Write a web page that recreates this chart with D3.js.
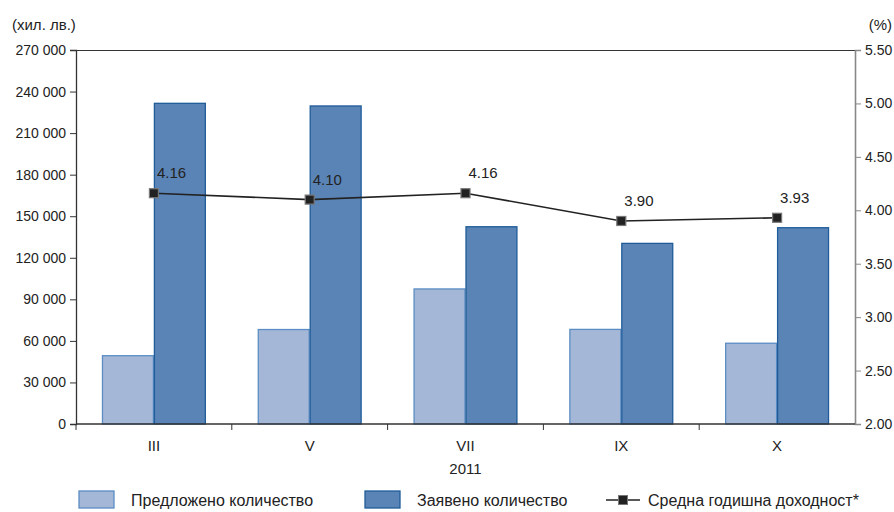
<!DOCTYPE html>
<html><head><meta charset="utf-8">
<script src="https://cdn.jsdelivr.net/npm/d3@7"></script>
<style>
body{margin:0;background:#fff;}
svg text{font-family:"Liberation Sans",Arial,sans-serif;fill:#222;}
</style></head>
<body><svg id="c" width="894" height="512"></svg>
<script>
const categories = ["III","V","VII","IX","X"];
const offered = [49300, 68200, 97500, 68300, 58300];
const requested = [231500, 229600, 142400, 130400, 141700];
const yieldPct = [4.16, 4.10, 4.16, 3.90, 3.93];
const leftTicks = [0,30000,60000,90000,120000,150000,180000,210000,240000,270000];
const rightTicks = [2.00,2.50,3.00,3.50,4.00,4.50,5.00,5.50];
const seriesNames = ["Предложено количество","Заявено количество","Средна годишна доходност*"];

const svg = d3.select("#c");
const L=76, R=855, T=50, B=424;
const x = d3.scaleBand().domain(categories).range([L,R]).padding(0);
const xi = d3.scaleBand().domain([0,1]).range([0,x.bandwidth()]).paddingInner(0).paddingOuter(0.5);
const yL = d3.scaleLinear().domain([0,270000]).range([B,T]);
const yR = d3.scaleLinear().domain([2,5.5]).range([B,T]);
const fmt = d=>d3.format(",")(d).replace(/,/g," ");

// bars
const colors=["#a5b7d7","#5b84b6"], strokes=["#5b8dc4","#1f5c99"];
[offered,requested].forEach((arr,si)=>{
  svg.append("g").selectAll("rect").data(arr).join("rect")
    .attr("x",(d,i)=>x(categories[i])+xi(si)+0.5)
    .attr("y",d=>yL(d))
    .attr("width",xi.bandwidth()-1)
    .attr("height",d=>B-yL(d))
    .attr("fill",colors[si]).attr("stroke",strokes[si]).attr("stroke-width",1.3);
});

// frame top
svg.append("line").attr("x1",L).attr("x2",R).attr("y1",T+0.5).attr("y2",T+0.5).attr("stroke","#333").attr("stroke-width",1.2);

// left axis
const gl = svg.append("g").attr("transform",`translate(${L},0)`)
  .call(d3.axisLeft(yL).tickValues(leftTicks).tickFormat(fmt).tickSize(6).tickPadding(4));
gl.select(".domain").attr("stroke","#333").attr("stroke-width",1.3);
gl.selectAll(".tick line").attr("stroke","#333");
gl.selectAll("text").style("font-size","14px").attr("fill","#222");

// right axis
const gr = svg.append("g").attr("transform",`translate(${R},0)`)
  .call(d3.axisRight(yR).tickValues(rightTicks).tickFormat(d3.format(".2f")).tickSize(6).tickPadding(4));
gr.select(".domain").attr("stroke","#888").attr("stroke-width",1.6);
gr.selectAll(".tick line").attr("stroke","#888");
gr.selectAll("text").style("font-size","14px").attr("fill","#222");

// bottom axis
svg.append("line").attr("x1",L).attr("x2",R).attr("y1",B).attr("y2",B).attr("stroke","#333").attr("stroke-width",1.3);
const bounds = categories.map(c=>x(c));
svg.append("g").selectAll("line").data(bounds).join("line")
  .attr("x1",d=>d).attr("x2",d=>d).attr("y1",B).attr("y2",B+6).attr("stroke","#333");
svg.append("g").selectAll("text").data(categories).join("text")
  .attr("x",d=>x(d)+x.bandwidth()/2).attr("y",451).attr("text-anchor","middle")
  .style("font-size","15px").text(d=>d);
svg.append("text").attr("x",(L+R)/2).attr("y",474).attr("text-anchor","middle").style("font-size","15px").text("2011");

// unit labels
svg.append("text").attr("x",12).attr("y",30).style("font-size","15px").text("(хил. лв.)");
svg.append("text").attr("x",892).attr("y",30).attr("text-anchor","end").style("font-size","15px").text("(%)");

// line
const cx = d=>x(d)+x.bandwidth()/2;
const line = d3.line().x((d,i)=>cx(categories[i])).y(d=>yR(d));
svg.append("path").datum(yieldPct).attr("d",line).attr("fill","none").attr("stroke","#222").attr("stroke-width",1.6);
svg.append("g").selectAll("rect").data(yieldPct).join("rect")
  .attr("x",(d,i)=>cx(categories[i])-4.5).attr("y",d=>yR(d)-4.5).attr("width",9).attr("height",9)
  .attr("fill","#222").attr("stroke","#777").attr("stroke-width",1.2);
svg.append("g").selectAll("text").data(yieldPct).join("text")
  .attr("x",(d,i)=>cx(categories[i])+3).attr("y",d=>yR(d)-15)
  .style("font-size","15px").text(d=>d.toFixed(2));

// legend
const ly=500;
const lg = svg.append("g");
[[79,0],[365,1]].forEach(([lx,si])=>{
  lg.append("rect").attr("x",lx).attr("y",ly-9).attr("width",35).attr("height",17)
    .attr("fill",colors[si]).attr("stroke",strokes[si]).attr("stroke-width",1.3);
  lg.append("text").attr("x",lx+52).attr("y",ly+6).style("font-size","16px").text(seriesNames[si]);
});
lg.append("line").attr("x1",606).attr("x2",640).attr("y1",ly).attr("y2",ly).attr("stroke","#222").attr("stroke-width",1.6);
lg.append("rect").attr("x",618.5).attr("y",ly-4.5).attr("width",9).attr("height",9).attr("fill","#222").attr("stroke","#777");
lg.append("text").attr("x",648).attr("y",ly+6).style("font-size","16px").text(seriesNames[2]);
</script></body></html>
